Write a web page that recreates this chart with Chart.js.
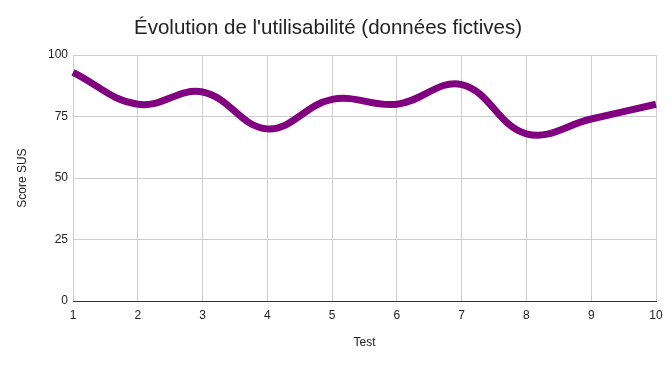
<!DOCTYPE html>
<html>
<head>
<meta charset="utf-8">
<script src="https://cdn.jsdelivr.net/npm/chart.js@4/dist/chart.umd.min.js"></script>
<style>
  html, body { margin: 0; padding: 0; background: #fff; }
  #wrap { width: 672px; height: 367px; position: relative; }
</style>
</head>
<body>
<div id="wrap"><canvas id="chartSus"></canvas></div>
<script>
  var tests = ['1','2','3','4','5','6','7','8','9','10'];
  var susScores = [93, 80, 85, 70, 82, 80, 88, 68, 74, 80];
  var yTicks = [0, 25, 50, 75, 100];

  var font = "Arial, 'Liberation Sans', sans-serif";

  new Chart(document.getElementById('chartSus'), {
    type: 'line',
    data: {
      labels: tests,
      datasets: [{
        label: 'Score SUS',
        data: susScores,
        borderColor: '#800080',
        borderWidth: 7,
        pointRadius: 0,
        tension: 0.4,
        fill: false,
        clip: false
      }]
    },
    options: {
      responsive: true,
      maintainAspectRatio: false,
      animation: false,
      layout: { padding: { left: 0, right: 16, top: 0, bottom: 0 } },
      plugins: {
        legend: { display: false },
        tooltip: { enabled: false },
        title: {
          display: true,
          text: "Évolution de l'utilisabilité (données fictives)",
          color: '#222',
          font: { family: font, size: 20.5, weight: 'normal' },
          padding: { top: 16, bottom: 14.5 }
        }
      },
      scales: {
        x: {
          offset: false,
          grid: { color: '#ccc', drawTicks: false },
          border: { color: '#333', width: 1 },
          ticks: { color: '#222', font: { family: font, size: 12 }, padding: 7, maxRotation: 0 },
          title: { display: true, text: 'Test', color: '#222', font: { family: font, size: 12 }, padding: { top: 6, bottom: 17 } },
          afterFit: function(s) { s.height = 66; }
        },
        y: {
          min: 0,
          max: 100,
          afterBuildTicks: function(s) { s.ticks = yTicks.map(function(v) { return { value: v }; }); },
          grid: {
            color: function(c) { return c.tick && c.tick.value === 0 ? '#333' : '#ccc'; },
            drawTicks: false
          },
          border: { display: false },
          ticks: { color: '#222', font: { family: font, size: 12 }, padding: 5 },
          title: { display: true, text: 'Score SUS', color: '#222', font: { family: font, size: 12 }, padding: { top: 15, bottom: 0 } },
          afterFit: function(s) { s.width = 73; }
        }
      }
    }
  });
</script>
</body>
</html>
